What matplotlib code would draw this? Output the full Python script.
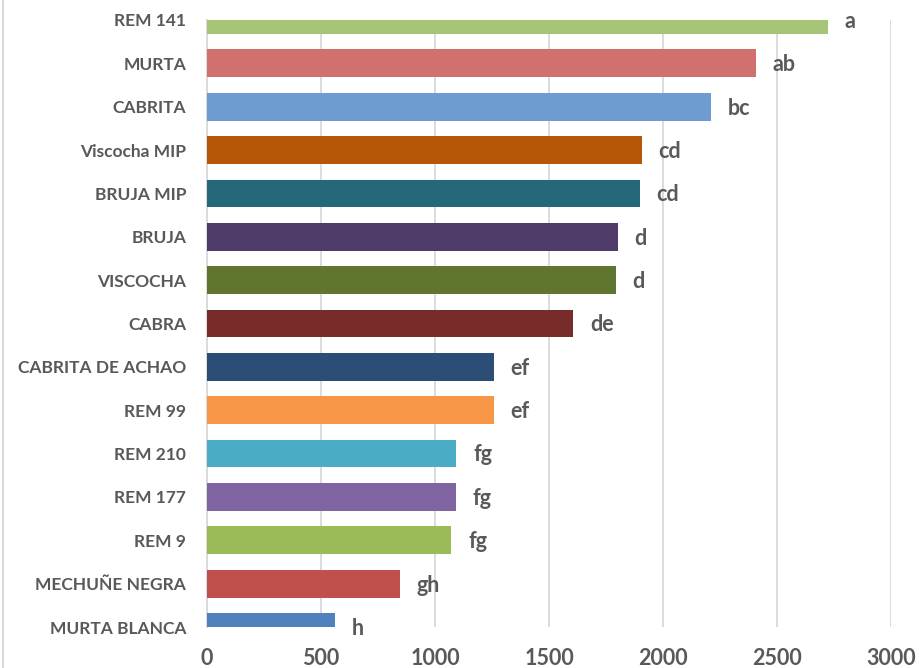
import matplotlib.pyplot as plt
from matplotlib.lines import Line2D

# Data
categories = ["REM 141", "MURTA", "CABRITA", "Viscocha MIP", "BRUJA MIP", "BRUJA",
              "VISCOCHA", "CABRA", "CABRITA DE ACHAO", "REM 99", "REM 210",
              "REM 177", "REM 9", "MECHUÑE NEGRA", "MURTA BLANCA"]
values = [2725, 2409, 2211, 1906, 1897, 1801, 1792, 1607, 1258, 1257, 1094,
          1090, 1072, 845, 563]
letters = ["a", "ab", "bc", "cd", "cd", "d", "d", "de", "ef", "ef", "fg",
           "fg", "fg", "gh", "h"]
colors = ["#A6C576", "#D07170", "#6E9BD0", "#B65708", "#25687A", "#4E3B68",
          "#5F7530", "#772C2A", "#2C4D75", "#F79646", "#4BACC6", "#8064A2",
          "#9BBB59", "#C0504D", "#4F81BD"]
xticks = [0, 500, 1000, 1500, 2000, 2500, 3000]

plt.rcParams['font.family'] = ['Lato', 'DejaVu Sans']
text_color = "#595959"

fig = plt.figure(figsize=(9.19, 6.68), dpi=100)
ax = fig.add_axes([207 / 919, 1 - 627 / 668, (891 - 207) / 919, (627 - 20) / 668])

pos = list(range(len(categories)))
bars = ax.barh(pos, values, height=0.64, color=colors, zorder=3)

for bar, lab in zip(bars, letters):
    ax.annotate(lab, (bar.get_width(), bar.get_y() + bar.get_height() / 2),
                xytext=(12, -1), textcoords="offset points", va="center",
                ha="left", fontsize=15.5, fontweight="bold", color=text_color,
                annotation_clip=False)

ax.set_yticks(pos)
ax.set_yticklabels(categories)
ax.set_ylim(14, 0)
ax.set_xlim(0, 3000)
ax.set_xticks(xticks)
ax.tick_params(axis="both", length=0, labelcolor=text_color)
ax.tick_params(axis="y", pad=15, labelsize=12.5)
ax.tick_params(axis="x", pad=15, labelsize=15.5)
for t in ax.get_xticklabels() + ax.get_yticklabels():
    t.set_fontweight("bold")

ax.grid(axis="x", color="#D9D9D9", linewidth=1.3, zorder=0)
for s in ["top", "right", "bottom"]:
    ax.spines[s].set_visible(False)
ax.spines["left"].set_color("#D9D9D9")
ax.spines["left"].set_linewidth(1.3)

fig.add_artist(Line2D([0.003, 0.003], [0, 1], color="#D9D9D9", linewidth=1.5))

plt.savefig("out.png", dpi=100)
